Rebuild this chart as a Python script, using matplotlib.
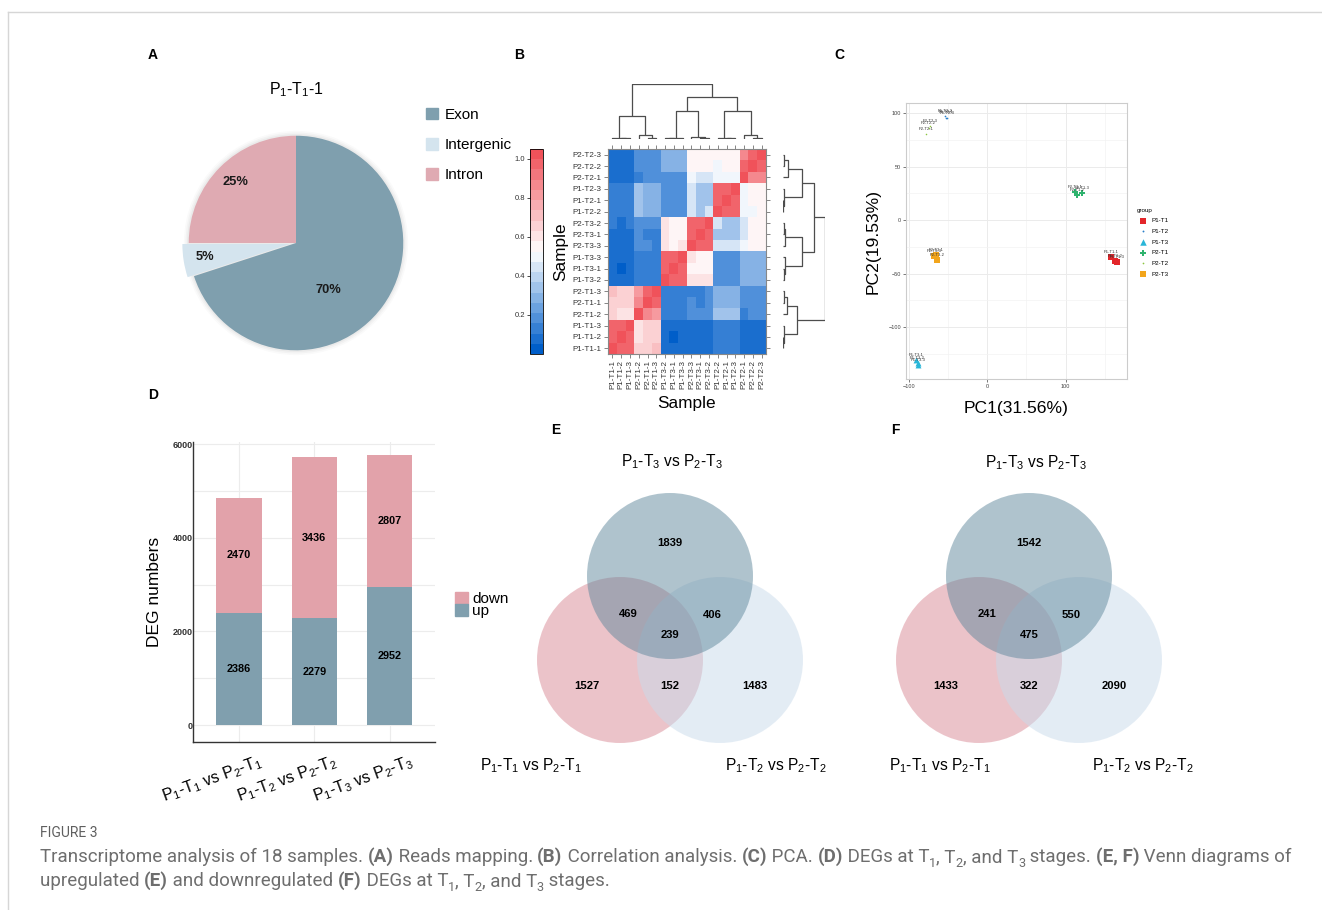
import numpy as np
import matplotlib
matplotlib.use("Agg")
import matplotlib.pyplot as plt
import matplotlib.transforms as mtransforms
from matplotlib.colors import LinearSegmentedColormap
from matplotlib.patches import Patch, Circle

plt.rcParams['font.family'] = ['Liberation Sans', 'DejaVu Sans']
plt.rcParams['mathtext.fontset'] = 'custom'
plt.rcParams['mathtext.rm'] = 'Liberation Sans'
plt.rcParams['mathtext.it'] = 'Liberation Sans:italic'
plt.rcParams['mathtext.bf'] = 'Liberation Sans:bold'

# ---------------- data ----------------
# A: reads mapping
pie_title = r"P$_1$-T$_1$-1"
pie_labels = ["Intron", "Intergenic", "Exon"]
pie_values = [25, 5, 70]
pie_colors = ["#dfaab2", "#d4e4ee", "#7f9fae"]

# B: sample correlation (rows top->bottom, cols left->right)
hm_rows = ["P2-T2-3", "P2-T2-2", "P2-T2-1", "P1-T2-3", "P1-T2-1", "P1-T2-2",
           "P2-T3-2", "P2-T3-1", "P2-T3-3", "P1-T3-3", "P1-T3-1", "P1-T3-2",
           "P2-T1-3", "P2-T1-1", "P2-T1-2", "P1-T1-3", "P1-T1-2", "P1-T1-1"]
hm_cols = hm_rows[::-1]
cor = [
    [0.08, 0.08, 0.08, 0.18, 0.18, 0.18, 0.29, 0.29, 0.29, 0.55, 0.55, 0.55, 0.55, 0.55, 0.55, 0.88, 0.96, 1.00],
    [0.08, 0.08, 0.08, 0.18, 0.18, 0.18, 0.29, 0.29, 0.29, 0.55, 0.55, 0.55, 0.50, 0.55, 0.55, 0.96, 1.00, 0.96],
    [0.08, 0.08, 0.08, 0.13, 0.18, 0.18, 0.18, 0.18, 0.18, 0.50, 0.45, 0.45, 0.50, 0.50, 0.50, 1.00, 0.88, 0.88],
    [0.13, 0.13, 0.13, 0.35, 0.29, 0.29, 0.18, 0.18, 0.18, 0.45, 0.35, 0.35, 0.96, 0.96, 1.00, 0.50, 0.55, 0.55],
    [0.13, 0.13, 0.13, 0.35, 0.29, 0.29, 0.18, 0.18, 0.18, 0.45, 0.35, 0.35, 0.96, 1.00, 0.96, 0.50, 0.55, 0.55],
    [0.13, 0.13, 0.13, 0.35, 0.29, 0.29, 0.18, 0.18, 0.18, 0.45, 0.35, 0.45, 1.00, 0.96, 0.96, 0.50, 0.50, 0.55],
    [0.13, 0.08, 0.13, 0.18, 0.18, 0.18, 0.61, 0.55, 0.55, 0.96, 0.96, 1.00, 0.45, 0.35, 0.35, 0.45, 0.55, 0.55],
    [0.08, 0.08, 0.08, 0.18, 0.13, 0.13, 0.61, 0.55, 0.55, 0.96, 1.00, 0.96, 0.35, 0.35, 0.35, 0.45, 0.55, 0.55],
    [0.08, 0.08, 0.08, 0.18, 0.18, 0.13, 0.61, 0.55, 0.61, 1.00, 0.96, 0.96, 0.45, 0.45, 0.45, 0.50, 0.55, 0.55],
    [0.08, 0.08, 0.08, 0.13, 0.13, 0.13, 0.96, 0.96, 1.00, 0.61, 0.55, 0.55, 0.18, 0.18, 0.18, 0.29, 0.29, 0.29],
    [0.08, 0.03, 0.08, 0.13, 0.13, 0.13, 0.96, 1.00, 0.96, 0.55, 0.55, 0.55, 0.18, 0.18, 0.18, 0.29, 0.29, 0.29],
    [0.08, 0.08, 0.08, 0.13, 0.13, 0.13, 1.00, 0.96, 0.96, 0.61, 0.61, 0.61, 0.18, 0.18, 0.18, 0.29, 0.29, 0.29],
    [0.72, 0.66, 0.66, 0.82, 0.96, 1.00, 0.13, 0.13, 0.13, 0.13, 0.13, 0.18, 0.29, 0.29, 0.29, 0.18, 0.18, 0.18],
    [0.66, 0.66, 0.66, 0.88, 1.00, 0.96, 0.13, 0.13, 0.13, 0.18, 0.13, 0.18, 0.29, 0.29, 0.29, 0.18, 0.18, 0.18],
    [0.66, 0.61, 0.61, 1.00, 0.88, 0.82, 0.13, 0.13, 0.13, 0.18, 0.18, 0.18, 0.35, 0.35, 0.35, 0.13, 0.18, 0.18],
    [0.96, 0.96, 1.00, 0.61, 0.66, 0.66, 0.08, 0.08, 0.08, 0.08, 0.08, 0.08, 0.13, 0.13, 0.13, 0.08, 0.08, 0.08],
    [0.96, 1.00, 0.96, 0.61, 0.66, 0.66, 0.08, 0.03, 0.08, 0.08, 0.08, 0.08, 0.13, 0.13, 0.13, 0.08, 0.08, 0.08],
    [1.00, 0.96, 0.96, 0.66, 0.66, 0.72, 0.08, 0.08, 0.08, 0.08, 0.08, 0.08, 0.13, 0.13, 0.13, 0.08, 0.08, 0.08],
]
# dendrograms: (height, left, right), leaves are column / row indices
col_tree = (1.0,
            (0.42, (0.02, 0, (0.01, 1, 2)), (0.08, 3, (0.02, 4, 5))),
            (0.76,
             (0.51, (0.02, (0.01, 6, 7), 8), (0.03, 9, (0.01, 10, 11))),
             (0.51, (0.02, 12, (0.01, 13, 14)), (0.08, 15, (0.02, 16, 17)))))
row_tree = (1.0,
            (0.74,
             (0.45, (0.11, (0.02, 0, 1), 2), (0.02, 3, (0.01, 4, 5))),
             (0.45, (0.05, (0.02, 6, 7), 8), (0.05, 9, (0.02, 10, 11)))),
            (0.33, (0.09, (0.03, 12, 13), 14), (0.02, 15, (0.01, 16, 17))))

# C: PCA
pca_groups = ["P1-T1", "P1-T2", "P1-T3", "P2-T1", "P2-T2", "P2-T3"]
pc1 = [[157.6, 163.0, 165.6], [-52.6, -54.0, -51.5], [-90.4, -89.0, -88.0],
       [112.0, 114.6, 120.6], [-78.0, -75.0, -73.0], [-65.0, -64.0, -67.5]]
pc2 = [[-35.0, -38.2, -39.0], [96.0, 97.5, 95.5], [-131.0, -134.0, -136.0],
       [26.5, 23.4, 25.0], [80.3, 86.0, 88.0], [-32.8, -37.5, -33.8]]
pca_colors = ["#e3262a", "#2a7fc9", "#29b6d8", "#2fb36e", "#8cc63f", "#f2a51c"]
pca_markers = ["s", ".", "^", "P", ".", "s"]
pca_sizes = [16, 6, 18, 14, 5, 18]

# D: DEG numbers
deg_pairs = [r"P$_1$-T$_1$ vs P$_2$-T$_1$", r"P$_1$-T$_2$ vs P$_2$-T$_2$",
             r"P$_1$-T$_3$ vs P$_2$-T$_3$"]
deg_up = [2386, 2279, 2952]
deg_down = [2470, 3436, 2807]

# E, F: Venn counts [top, top&left, top&right, all, left, left&right, right]
venn_up = [1839, 469, 406, 239, 1527, 152, 1483]
venn_down = [1542, 241, 550, 475, 1433, 322, 2090]

up_color = "#809fae"
down_color = "#e2a2aa"

# ---------------- figure ----------------
W, H = 1322, 910
fig = plt.figure(figsize=(W / 100, H / 100), dpi=100)


def px_axes(x0, y0, x1, y1):
    return fig.add_axes([x0 / W, 1 - y1 / H, (x1 - x0) / W, (y1 - y0) / H])


canvas = px_axes(0, 0, W, H)
canvas.set_xlim(0, W)
canvas.set_ylim(H, 0)
canvas.axis('off')
canvas.plot([8, W], [12, 12], color='#d6d6d6', lw=1)
canvas.plot([8, 8], [12, H], color='#d6d6d6', lw=1)

for lab, x, y in [("A", 153, 55), ("B", 519, 55), ("C", 839, 55),
                  ("D", 153, 395), ("E", 556, 430), ("F", 895, 430)]:
    canvas.text(x, y, lab, fontsize=10, fontweight='bold', ha='center', va='center')

# ---- A: pie ----
ax = px_axes(178, 125, 414, 361)
for r, a in [(1.045, 0.04), (1.03, 0.06), (1.015, 0.08)]:
    ax.add_patch(Circle((0, 0), r, color='#888888', alpha=a, lw=0, zorder=0))
wedges, texts, autos = ax.pie(pie_values, colors=pie_colors, startangle=90,
                              counterclock=True, explode=[0, 0.06, 0],
                              autopct='%.0f%%', pctdistance=0.8,
                              wedgeprops=dict(linewidth=0),
                              textprops=dict(fontsize=9.3, fontweight='bold', color='#1a1a1a'))
autos[2].set_position((0.3, -0.44))
ax.set_xlim(-1.1, 1.1)
ax.set_ylim(-1.1, 1.1)
ax.set_aspect('equal')
ax.set_title(pie_title, fontsize=11.5, pad=22)
order = [2, 1, 0]
fig.legend([Patch(color=pie_colors[i]) for i in order], [pie_labels[i] for i in order],
           loc='upper left', bbox_to_anchor=(412 / W, 1 - 94 / H), frameon=False,
           fontsize=11, handlelength=0.8, handleheight=0.8, labelspacing=1.05,
           handletextpad=0.45)

# ---- B: heatmap ----
cmap = LinearSegmentedColormap.from_list('cor', ['#005ec9', '#ffffff', '#f0525a'], N=20)
hm = px_axes(608, 149, 766, 354)
im = hm.imshow(np.array(cor), cmap=cmap, vmin=0, vmax=1.05, aspect='auto',
               interpolation='nearest')
hm.set_xticks(range(len(hm_cols)))
hm.set_xticklabels(hm_cols, rotation=90)
hm.set_yticks(range(len(hm_rows)))
hm.set_yticklabels(hm_rows)
hm.tick_params(top=True, right=True, length=3, width=0.5, color='#555555',
               labelsize=5.8, pad=1.5, labelcolor='#333333')
for s in hm.spines.values():
    s.set_color('#888888')
    s.set_linewidth(0.8)
hm.set_xlabel("Sample", fontsize=12.4, labelpad=5)
hm.set_ylabel("Sample", fontsize=12.4, labelpad=3)

cax = px_axes(530, 149, 543, 354)
cb = fig.colorbar(im, cax=cax)
cb.set_ticks([0.2, 0.4, 0.6, 0.8, 1.0])
cax.yaxis.set_ticks_position('left')
cax.tick_params(labelsize=5.5, length=2, width=0.5, pad=1.5, labelcolor='#333333')
cb.outline.set_linewidth(0.6)


def dendro(axd, node, top):
    if isinstance(node, int):
        return node, 0.0
    h, left, right = node
    pl, hl = dendro(axd, left, top)
    pr, hr = dendro(axd, right, top)
    xs, ys = [pl, pl, pr, pr], [hl, h, h, hr]
    if top:
        axd.plot(xs, ys, color='#4d4d4d', lw=0.9, solid_capstyle='butt')
    else:
        axd.plot(ys, xs, color='#4d4d4d', lw=0.9, solid_capstyle='butt')
    return (pl + pr) / 2, h


dtop = px_axes(608, 84, 766, 139)
dendro(dtop, col_tree, True)
dtop.set_xlim(-0.5, len(hm_cols) - 0.5)
dtop.set_ylim(0, 1)
dtop.axis('off')
dright = px_axes(783, 149, 825, 354)
dendro(dright, row_tree, False)
dright.set_ylim(len(hm_rows) - 0.5, -0.5)
dright.set_xlim(0, 1)
dright.axis('off')

# ---- C: PCA ----
pca = px_axes(906, 103, 1127, 379)
pca.set_xlim(-103.8, 178.3)
pca.set_ylim(-148.8, 109.7)
pca.set_xticks([-100, 0, 100])
pca.set_yticks([-100, -50, 0, 50, 100])
pca.set_xticks([-50, 50, 150], minor=True)
pca.set_yticks([-125, -75, -25, 25, 75], minor=True)
pca.grid(which='major', color='#ebebeb', lw=0.7)
pca.grid(which='minor', color='#f3f3f3', lw=0.5)
pca.set_axisbelow(True)
pca.tick_params(which='major', labelsize=4, length=2, width=0.5, pad=1.5,
                color='#444444', labelcolor='#444444')
pca.tick_params(which='minor', length=0)
for s in pca.spines.values():
    s.set_color('#cccccc')
    s.set_linewidth(0.8)
for g, xs, ys, c, m, sz in zip(pca_groups, pc1, pc2, pca_colors, pca_markers, pca_sizes):
    pca.scatter(xs, ys, marker=m, c=c, s=sz, lw=0, label=g, zorder=3)
    for k, (x, y) in enumerate(zip(xs, ys)):
        pca.text(x, y + 3, f"{g}-{k + 1}", fontsize=3, ha='center', va='bottom',
                 color='#333333', zorder=4)
pca.set_xlabel("PC1(31.56%)", fontsize=12.6, labelpad=9)
pca.set_ylabel("PC2(19.53%)", fontsize=12.6, labelpad=6)
pca.legend(title='group', loc='upper left', bbox_to_anchor=(1131 / W, 1 - 202 / H),
           bbox_transform=fig.transFigure, frameon=False, fontsize=4.5,
           title_fontsize=4.5, alignment='left', handletextpad=0.3,
           labelspacing=0.85, markerscale=1.1)

# ---- D: stacked bars ----
bar = px_axes(193, 441.7, 435, 742)
pos = np.arange(1, len(deg_up) + 1)
bar.bar(pos, deg_up, width=0.6, color=up_color, zorder=2)
bar.bar(pos, deg_down, bottom=deg_up, width=0.6, color=down_color, zorder=2)
for p, u, d in zip(pos, deg_up, deg_down):
    bar.text(p, u / 2, str(u), ha='center', va='center', fontsize=7.8, fontweight='bold')
    bar.text(p, u + d / 2, str(d), ha='center', va='center', fontsize=7.8, fontweight='bold')
bar.set_xlim(0.39, 3.6)
bar.set_ylim(-363, 6050)
bar.set_yticks([0, 2000, 4000, 6000])
bar.set_yticks([1000, 3000, 5000], minor=True)
bar.set_xticks(pos)
bar.set_xticklabels([])
bar.grid(which='both', color='#ececec', lw=0.8)
bar.set_axisbelow(True)
bar.tick_params(axis='y', which='both', length=0, pad=0, labelsize=6.5)
bar.tick_params(axis='x', length=0)
for t in bar.get_yticklabels():
    t.set_fontweight('bold')
    t.set_color('#333333')
for s in ['top', 'right']:
    bar.spines[s].set_visible(False)
for s in ['left', 'bottom']:
    bar.spines[s].set_color('#333333')
    bar.spines[s].set_linewidth(1)
bar.set_ylabel("DEG numbers", fontsize=12.5, labelpad=8)
lab_tr = mtransforms.offset_copy(bar.get_xaxis_transform(), fig=fig, x=-27, y=-37, units='dots')
for p, lab in zip(pos, deg_pairs):
    bar.text(p, 0, lab, transform=lab_tr, rotation=20, ha='center', va='center',
             fontsize=11.5)
fig.legend([Patch(color=down_color), Patch(color=up_color)], ["down", "up"],
           loc='upper left', bbox_to_anchor=(444 / W, 1 - 581 / H), frameon=False,
           fontsize=11, handlelength=0.85, handleheight=0.85, labelspacing=-0.15,
           handletextpad=0.3, borderpad=0.2)


# ---- E, F: Venn ----
def venn(cx, cy, counts, set_labels, label_pos):
    r, dx, dy = 83, 50, 42
    circles = [((cx - dx, cy + dy), '#d98995'), ((cx + dx, cy + dy), '#c9dbeb'),
               ((cx, cy - dy), '#61899d')]
    for (x, y), c in circles:
        canvas.add_patch(Circle((x, y), r, facecolor=c, alpha=0.5, lw=0))
    offs = [(0, -75), (-42, -4), (42, -3), (0, 17), (-83, 68), (0, 68), (85, 68)]
    for n, (ox, oy) in zip(counts, offs):
        canvas.text(cx + ox, cy + oy, str(n), ha='center', va='center',
                    fontsize=8.1, fontweight='bold')
    for lab, (lx, ly) in zip(set_labels, label_pos):
        canvas.text(lx, ly, lab, ha='center', va='center', fontsize=11.2)


venn_labels = [deg_pairs[2], deg_pairs[0], deg_pairs[1]]
venn(670, 618, venn_up, venn_labels, [(672, 462), (531, 766), (776, 766)])
venn(1029, 618, venn_down, venn_labels, [(1036, 463), (940, 766), (1143, 766)])

# ---- caption ----
cap_font = 'Roboto'
cap_color = '#6e6e6e'
renderer = fig.canvas.get_renderer()


def rich_line(x, y, parts, size, draw=True):
    cur = x
    for txt, style in parts:
        fs = size * 0.68 if style == 'sub' else size
        dy = size * 1.389 * 0.28 if style == 'sub' else 0
        wt = 'bold' if style == 'b' else 'normal'
        kw = dict(fontsize=fs, fontweight=wt, family=cap_font)
        probe = canvas.text(0, 0, '|', **kw)
        full = canvas.text(0, 0, txt + '|', **kw)
        w = full.get_window_extent(renderer).width - probe.get_window_extent(renderer).width
        probe.remove()
        full.remove()
        if draw:
            canvas.text(cur, y + dy, txt, color=cap_color, va='baseline', ha='left', **kw)
        cur += w
    return cur - x


line1 = [("Transcriptome analysis of 18 samples. ", 'n'), ("(A)", 'b'),
         (" Reads mapping. ", 'n'), ("(B)", 'b'), (" Correlation analysis. ", 'n'),
         ("(C)", 'b'), (" PCA. ", 'n'), ("(D)", 'b'), (" DEGs at T", 'n'), ("1", 'sub'),
         (", T", 'n'), ("2", 'sub'), (", and T", 'n'), ("3", 'sub'), (" stages. ", 'n'),
         ("(E, F)", 'b'), (" Venn diagrams of", 'n')]
line2 = [("upregulated ", 'n'), ("(E)", 'b'), (" and downregulated ", 'n'), ("(F)", 'b'),
         (" DEGs at T", 'n'), ("1", 'sub'), (", T", 'n'), ("2", 'sub'), (", and T", 'n'),
         ("3", 'sub'), (" stages.", 'n')]
base = 12.0
w1 = rich_line(40, 862, line1, base, draw=False)
cap_size = base * 1253 / w1
rich_line(40, 862, line1, cap_size)
rich_line(40, 886, line2, cap_size)
canvas.text(40, 837, "FIGURE 3", family=cap_font, fontsize=10, color='#5f5f5f',
            va='baseline', ha='left')

fig.savefig("out.png", dpi=100)
